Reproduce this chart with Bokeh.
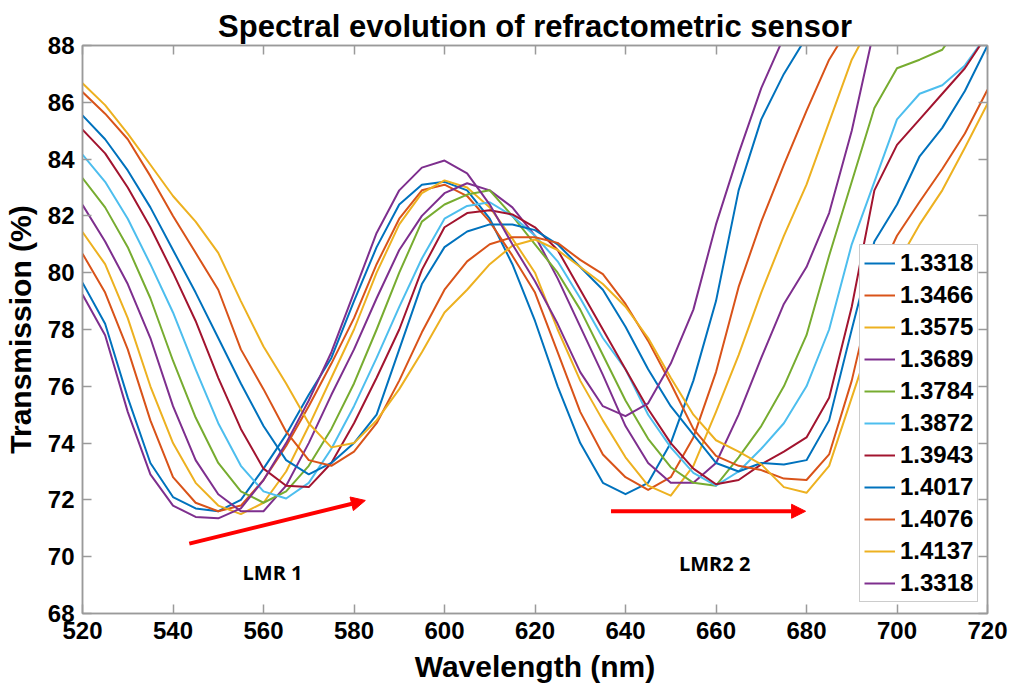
import numpy as np
from bokeh.plotting import figure
from bokeh.models import (Legend, LegendItem, LinearAxis, FixedTicker, Range1d,
                          Arrow, NormalHead, Label)
from bokeh.embed import file_html
from bokeh.resources import INLINE

nan = float("nan")

# ---------------- data ----------------
WAVELENGTH = list(range(520, 721, 5))

LABELS = ["1.3318", "1.3466", "1.3575", "1.3689", "1.3784", "1.3872",
          "1.3943", "1.4017", "1.4076", "1.4137", "1.3318"]

COLORS = ["#0072BD", "#D95319", "#EDB120", "#7E2F8E", "#77AC30", "#4DBEEE",
          "#A2142F", "#0072BD", "#D95319", "#EDB120", "#7E2F8E"]

RI_13318 = [79.65, 78.2, 75.6, 73.3, 72.1, 71.7, 71.6, 72.0, 73.1, 74.3,
            75.7, 77.0, 79.0, 80.9, 82.4, 83.1, 83.2, 82.9, 81.9, 80.3,
            78.3, 76.0, 74.0, 72.6, 72.2, 72.6, 74.0, 76.2, 79.0, 82.9,
            85.4, 87.0, 88.3, nan, nan, nan, nan, nan, nan, nan, nan]
RI_13466 = [80.67, 79.3, 77.3, 74.8, 72.8, 71.9, 71.6, 71.8, 72.7, 73.9,
            75.3, 76.8, 78.4, 80.3, 81.9, 82.9, 83.1, 82.7, 81.8, 80.6,
            79.3, 77.2, 75.1, 73.6, 72.8, 72.35, 72.8, 74.2, 76.5, 79.5,
            81.8, 83.8, 85.7, 87.5, 88.8, nan, nan, nan, nan, nan, nan]
RI_13575 = [81.43, 80.3, 78.4, 76.0, 74.0, 72.6, 71.8, 71.5, 71.9, 73.0,
            74.6, 76.3, 78.0, 80.0, 81.7, 82.8, 83.25, 83.0, 82.3, 81.2,
            80.0, 78.0, 76.2, 74.8, 73.5, 72.5, 72.15, 73.2, 75.1, 77.1,
            79.3, 81.3, 83.1, 85.3, 87.5, 89.0, nan, nan, nan, nan, nan]
RI_13689 = [82.39, 81.1, 79.6, 77.7, 75.3, 73.4, 72.2, 71.6, 71.6, 72.5,
            74.0, 75.7, 77.3, 79.1, 80.8, 82.0, 82.8, 83.15, 82.9, 82.3,
            81.3, 79.8, 78.1, 76.4, 74.6, 73.3, 72.6, 72.6, 73.3, 75.0,
            77.0, 78.9, 80.2, 82.1, 85.0, 88.6, nan, nan, nan, nan, nan]
RI_13784 = [83.33, 82.3, 80.9, 79.1, 76.9, 74.9, 73.3, 72.3, 71.9, 72.3,
            73.2, 74.5, 76.1, 78.0, 80.0, 81.8, 82.4, 82.75, 82.9, 82.0,
            81.0, 80.0, 78.7, 77.1, 75.5, 74.15, 73.15, 72.6, 72.5, 73.5,
            74.6, 76.0, 77.8, 80.6, 83.2, 85.8, 87.2, 87.5, 87.85, 89.0, nan]
RI_13872 = [84.16, 83.2, 81.9, 80.3, 78.6, 76.6, 74.7, 73.2, 72.3, 72.05,
            72.6, 73.8, 75.3, 77.0, 78.8, 80.5, 81.9, 82.35, 82.48, 82.0,
            81.3, 80.4, 79.1, 77.7, 76.6, 75.0, 73.85, 72.95, 72.5, 73.0,
            73.8, 74.7, 76.0, 78.0, 81.0, 83.2, 85.4, 86.3, 86.6, 87.3, 88.4]
RI_13943 = [85.04, 84.2, 83.0, 81.6, 80.0, 78.3, 76.3, 74.5, 73.1, 72.5,
            72.45, 73.3, 74.7, 76.3, 78.0, 80.1, 81.6, 82.1, 82.2, 82.05,
            81.6, 80.8, 79.4, 78.0, 76.6, 75.2, 74.0, 73.1, 72.55, 72.7,
            73.25, 73.7, 74.2, 75.6, 78.8, 82.9, 84.5, 85.4, 86.3, 87.2, 88.4]
RI_14017 = [85.54, 84.7, 83.6, 82.3, 80.8, 79.3, 77.7, 76.1, 74.6, 73.4,
            72.9, 73.3, 74.0, 75.0, 77.3, 79.6, 80.9, 81.45, 81.7, 81.7,
            81.5, 81.0, 80.2, 79.4, 78.1, 76.6, 75.3, 74.3, 73.3, 73.0,
            73.3, 73.25, 73.4, 74.8, 78.0, 81.1, 82.4, 84.1, 85.1, 86.4, 88.0]
RI_14076 = [86.36, 85.6, 84.7, 83.4, 82.0, 80.7, 79.4, 77.3, 75.9, 74.4,
            73.4, 73.2, 73.7, 74.7, 76.2, 77.9, 79.4, 80.4, 81.0, 81.25,
            81.25, 81.05, 80.45, 79.95, 78.9, 77.6, 76.1, 74.5, 73.55, 73.2,
            73.05, 72.75, 72.7, 73.6, 76.2, 79.6, 81.3, 82.5, 83.65, 84.9, 86.44]
RI_14137 = [86.67, 85.9, 84.9, 83.8, 82.7, 81.8, 80.7, 79.0, 77.4, 76.1,
            74.7, 73.85, 74.0, 74.8, 75.9, 77.2, 78.6, 79.4, 80.3, 80.95,
            81.17, 80.8, 80.2, 79.6, 78.8, 77.7, 76.3, 75.0, 74.1, 73.7,
            73.25, 72.45, 72.25, 73.2, 75.6, 78.0, 80.3, 81.7, 82.9, 84.4, 85.95]
RI_13318_B = [79.23, 77.8, 75.1, 72.9, 71.8, 71.4, 71.35, 71.7, 72.7, 74.0,
              75.5, 77.2, 79.3, 81.4, 82.9, 83.7, 83.95, 83.5, 82.4, 81.0,
              79.7, 78.2, 76.5, 75.3, 74.95, 75.4, 76.8, 78.7, 81.7, 84.2,
              86.5, 88.3, nan, nan, nan, nan, nan, nan, nan, nan, nan]

SERIES = [RI_13318, RI_13466, RI_13575, RI_13689, RI_13784, RI_13872,
          RI_13943, RI_14017, RI_14076, RI_14137, RI_13318_B]

X_TICKS = list(range(520, 721, 20))
Y_TICKS = list(range(68, 89, 2))

# annotation positions (data units)
LMR1_ARROW = (543.6, 70.46, 582.5, 71.98)
LMR2_ARROW = (636.8, 71.6, 679.8, 71.6)
LMR1_TEXT = (562.0, 69.45, "LMR 1")
LMR2_TEXT = (659.7, 69.76, "LMR2 2")

# ---------------- figure ----------------
FONT = "Liberation Sans"
AX_COLOR = "#9a9a9a"

p = figure(width=1013, height=696,
           x_range=Range1d(520, 720), y_range=Range1d(68, 88),
           output_backend="svg", toolbar_location=None,
           min_border_left=82, min_border_right=26,
           min_border_top=45, min_border_bottom=83)

p.title.text = "Spectral evolution of refractometric sensor"
p.title.align = "center"
p.title.text_font = FONT
p.title.text_font_style = "bold"
p.title.text_font_size = "31px"
p.title.text_color = "black"
p.title.standoff = 3

p.xgrid.visible = False
p.ygrid.visible = False
p.outline_line_color = AX_COLOR
p.outline_line_width = 1.5
p.background_fill_color = "white"
p.border_fill_color = "white"

for ax, ticks in ((p.xaxis, X_TICKS), (p.yaxis, Y_TICKS)):
    ax.ticker = FixedTicker(ticks=ticks)
    ax.major_label_text_font = FONT
    ax.major_label_text_font_style = "bold"
    ax.major_label_text_font_size = "24px"
    ax.major_label_text_color = "black"
    ax.axis_label_text_font = FONT
    ax.axis_label_text_font_style = "bold"
    ax.axis_label_text_font_size = "30px"
    ax.axis_label_text_color = "black"
    ax.major_tick_in = 9
    ax.major_tick_out = 0
    ax.minor_tick_line_color = None
    ax.axis_line_color = AX_COLOR
    ax.axis_line_width = 1.5
    ax.major_tick_line_color = AX_COLOR
    ax.major_tick_line_width = 1.5

p.xaxis.axis_label = "Wavelength (nm)"
p.yaxis.axis_label = "Transmission (%)"
p.xaxis.major_label_standoff = 8
p.yaxis.major_label_standoff = 8
p.xaxis.axis_label_standoff = 8
p.yaxis.axis_label_standoff = 8

# box ticks on top and right (no labels)
for loc, ticks in (("above", X_TICKS), ("right", Y_TICKS)):
    a = LinearAxis(ticker=FixedTicker(ticks=ticks),
                   major_label_text_color=None,
                   major_label_text_font_size="1px",
                   major_label_standoff=0,
                   major_tick_in=9, major_tick_out=0,
                   minor_tick_line_color=None,
                   axis_line_color=AX_COLOR, axis_line_width=1.5,
                   major_tick_line_color=AX_COLOR, major_tick_line_width=1.5)
    p.add_layout(a, loc)

items = []
for vals, col, lab in zip(SERIES, COLORS, LABELS):
    r = p.line(WAVELENGTH, np.array(vals, dtype=float), line_color=col,
               line_width=2, line_join="round")
    items.append(LegendItem(label=lab, renderers=[r]))

legend = Legend(items=items, location=(777, 11),
                label_text_font=FONT, label_text_font_style="bold",
                label_text_font_size="24px", label_text_color="black",
                label_height=28, glyph_height=28, glyph_width=31,
                label_standoff=5, spacing=4, padding=4, margin=0,
                border_line_color=AX_COLOR, border_line_width=1.5,
                background_fill_color="white", background_fill_alpha=1.0)
p.add_layout(legend, "center")

for (xs, ys, xe, ye) in (LMR1_ARROW, LMR2_ARROW):
    p.add_layout(Arrow(end=NormalHead(size=14, fill_color="red", line_color="red"),
                       x_start=xs, y_start=ys, x_end=xe, y_end=ye,
                       line_color="red", line_width=4))

for (tx, ty, tt) in (LMR1_TEXT, LMR2_TEXT):
    p.add_layout(Label(x=tx, y=ty, text=tt, text_align="center",
                       text_baseline="middle", text_font="Open Sans",
                       text_font_style="bold", text_font_size="20px",
                       text_color="black"))

open("out.html", "w").write(file_html(p, INLINE))
